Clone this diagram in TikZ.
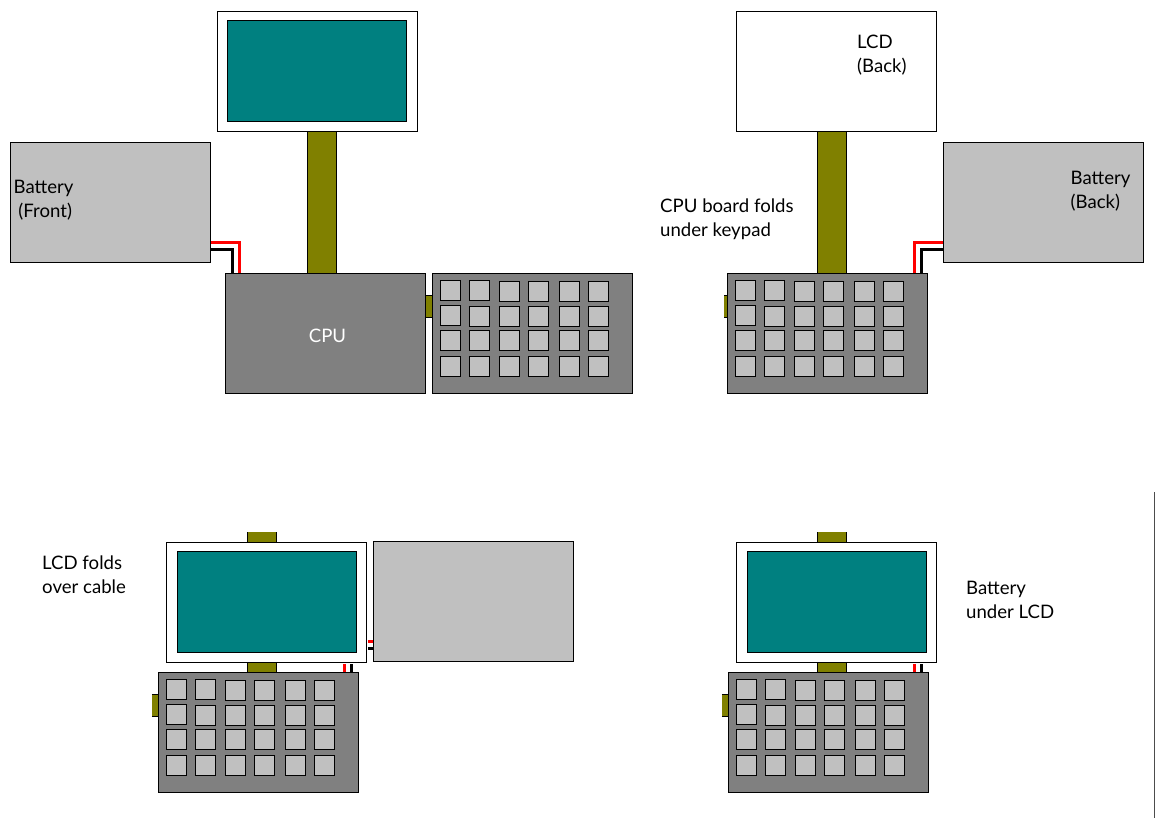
\documentclass[tikz,border=0pt]{standalone}
\usepackage{fontspec}
\setmainfont{Lato}
\definecolor{teal8}{HTML}{008080}
\definecolor{olive8}{HTML}{808000}
\definecolor{grey8}{HTML}{808080}
\definecolor{silver8}{HTML}{C0C0C0}
\tikzset{
  x=1pt,y=-1pt,
  panel/.style={draw=black,line width=1pt,inner sep=0pt,outer sep=0pt,anchor=north west},
  lcdframe/.style={panel,fill=white,minimum width=200pt,minimum height=120pt},
  lcdscreen/.style={panel,fill=teal8,minimum width=179pt,minimum height=101pt},
  batterybox/.style={panel,fill=silver8,minimum width=200pt,minimum height=120pt},
  boardbox/.style={panel,fill=grey8,minimum width=200pt,minimum height=120pt},
  keycap/.style={panel,fill=silver8,minimum width=20.4pt,minimum height=20.4pt},
  ribbon/.style={panel,fill=olive8},
  stub/.style={inner sep=0pt,outer sep=0pt,anchor=north west,fill=olive8,minimum height=22.4pt},
  tall/.style={inner sep=0pt,outer sep=0pt,anchor=north west,fill=olive8,minimum width=29.2pt,minimum height=141pt},
  edge/.style={draw=black,line width=1pt},
  redwire/.style={draw=red,line width=3pt},
  blackwire/.style={draw=black,line width=3pt},
  caption/.style={inner sep=0pt,anchor=north west,align=left,font=\fontsize{18.6}{24}\selectfont,text=black},
}
% keypad: #1 name, #2 x, #3 y
\newcommand{\keypadat}[3]{%
  \node[boardbox] (#1) at (#2,#3) {};
  \foreach \c/\dx in {1/8,2/37,3/67,4/96,5/127,6/156}{
    \foreach \r/\dy in {1/7,2/32,3/57,4/83}{
      \pgfmathsetmacro{\shift}{((\r==1 && \c>2) || (\r==2 && \c>1)) ? 1 : 0}
      \node[keycap] (#1k\c\r) at ({#2+\dx},{#3+\dy+\shift}) {};
    }
  }
}
% lcd: #1 name, #2 x, #3 y, #4 screen x offset
\newcommand{\lcdat}[4]{%
  \node[lcdframe] (#1) at (#2,#3) {};
  \node[lcdscreen] (#1s) at ({#2+#4},{#3+9}) {};
}
\begin{document}
\begin{tikzpicture}
\useasboundingbox (0,0) rectangle (1155,818);
% top-left
\node[ribbon,minimum width=29.2pt,minimum height=142pt] (ribA) at (307.4,131.4) {};
\node[ribbon,minimum width=9pt,minimum height=22.4pt] (sideA) at (424.5,295.2) {};
\coordinate (aR0) at (210,242.3); \coordinate (aR1) at (239.5,273.5);
\coordinate (aB0) at (210,249.5); \coordinate (aB1) at (232.7,273.5);
\draw[redwire] (aR0) -| (aR1);
\draw[blackwire] (aB0) -| (aB1);
\lcdat{lcdA}{217.5}{11.5}{10}
\node[batterybox] (batA) at (10.5,142.5) {};
\node[boardbox] (cpu) at (225.5,273.5) {};
\keypadat{padA}{432.5}{273.5}
\node[text=white,font=\fontsize{18.6}{24}\selectfont,inner sep=0pt] (cpuL) at (327.5,335.5) {CPU};
\node[caption] (batAL) at (13.5,180) {Battery\\[0pt]\ (Front)};
% top-right
\node[ribbon,minimum width=29.2pt,minimum height=142pt] (ribB) at (817.4,131) {};
\node[stub,minimum width=5pt] (sideB) at (724,295.2) {};
\draw[edge] (sideB.north west) -- (sideB.north east) (sideB.south west) -- (sideB.south east);
\coordinate (bR0) at (944,242.3); \coordinate (bR1) at (914.3,272.5);
\coordinate (bB0) at (944,249.3); \coordinate (bB1) at (921.3,272.5);
\draw[redwire] (bR0) -| (bR1);
\draw[blackwire] (bB0) -| (bB1);
\node[lcdframe] (lcdB) at (736.5,11.5) {};
\node[batterybox] (batB) at (943.5,142.5) {};
\keypadat{padB}{727.5}{273.5}
\node[caption] (lcdBL) at (857,34.5) {LCD\\(Back)};
\node[caption] (batBL) at (1070.5,171) {Battery\\(Back)};
\node[caption] (foldL) at (660,198.5) {CPU board folds\\under keypad};
% bottom-left
\node[tall] (ribC) at (247.4,532) {};
\draw[edge] (ribC.north west) -- (ribC.south west) (ribC.north east) -- (ribC.south east);
\node[stub,minimum width=7pt] (sideC) at (151.8,694.2) {};
\draw[edge] (sideC.north west) -- (sideC.north east) (sideC.south west) -- (sideC.south east);
\coordinate (cR0) at (344.3,664); \coordinate (cR1) at (344.3,672.5);
\coordinate (cB0) at (351.3,664); \coordinate (cB1) at (351.3,672.5);
\draw[redwire] (cR0) -- (cR1);
\draw[blackwire] (cB0) -- (cB1);
\coordinate (cR2) at (368,641.3); \coordinate (cR3) at (374,641.3);
\coordinate (cB2) at (368,648.3); \coordinate (cB3) at (375,648.3);
\draw[redwire] (cR2) -- (cR3);
\draw[blackwire] (cB2) -- (cB3);
\lcdat{lcdC}{166.5}{542.5}{10.7}
\node[batterybox] (batC) at (373.5,541.5) {};
\keypadat{padC}{158.5}{672.5}
\node[caption] (lcdCL) at (42,556) {LCD folds\\over cable};
% bottom-right
\node[tall] (ribD) at (817.4,532) {};
\draw[edge] (ribD.north west) -- (ribD.south west) (ribD.north east) -- (ribD.south east);
\node[stub,minimum width=7pt] (sideD) at (721.8,694.2) {};
\draw[edge] (sideD.north west) -- (sideD.north east) (sideD.south west) -- (sideD.south east);
\coordinate (dR0) at (914.3,664); \coordinate (dR1) at (914.3,672.5);
\coordinate (dB0) at (921.3,664); \coordinate (dB1) at (921.3,672.5);
\draw[redwire] (dR0) -- (dR1);
\draw[blackwire] (dB0) -- (dB1);
\lcdat{lcdD}{736.5}{542.5}{10.7}
\keypadat{padD}{728.5}{672.5}
\node[caption] (batDL) at (966,580.5) {Battery\\under LCD};
% right margin rule
\coordinate (ruleT) at (1154.5,492); \coordinate (ruleB) at (1154.5,818);
\draw[black!70,line width=0.8pt] (ruleT) -- (ruleB);
\end{tikzpicture}
\end{document}
